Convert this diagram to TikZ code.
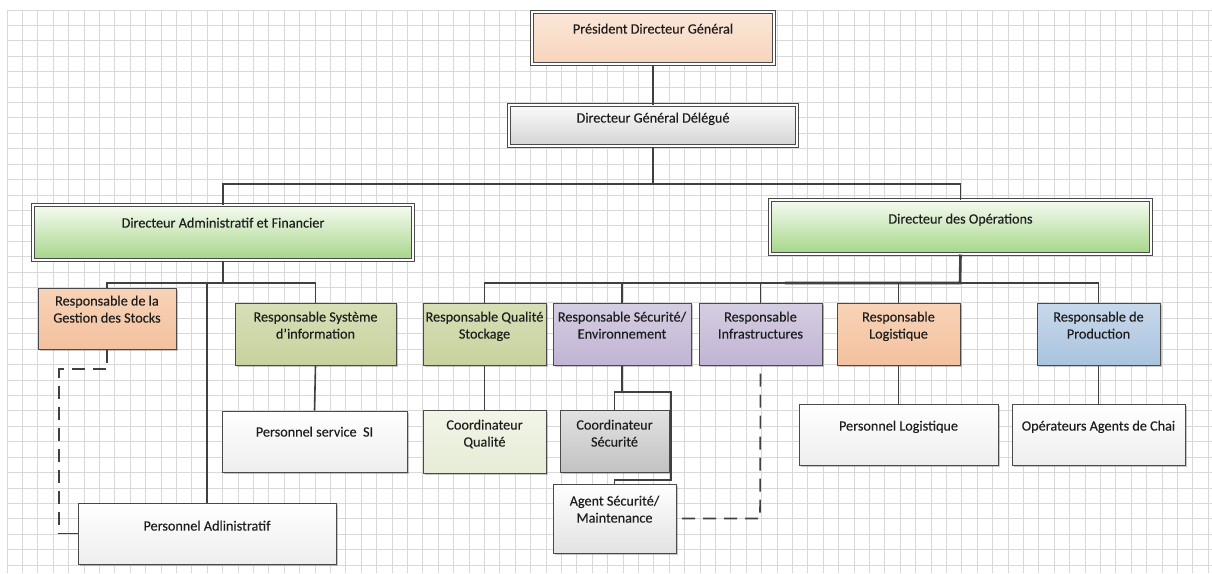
\documentclass[tikz,border=0pt]{standalone}
\usepackage{fontspec}
\setmainfont{Carlito}
\newfontfamily\labfont{Carlito}[FakeBold=0.25]
\usetikzlibrary{shadows}
\definecolor{gridc}{HTML}{D9D9D9}
\definecolor{bordc}{HTML}{4A4A4A}
\definecolor{linec}{HTML}{404040}
\definecolor{textc}{HTML}{1E1E1E}
\definecolor{peachT}{HTML}{FBE7D9}
\definecolor{peachB}{HTML}{F7D4BB}
\definecolor{orT}{HTML}{F8D3B7}
\definecolor{orB}{HTML}{F3C19F}
\definecolor{grnT}{HTML}{F6FBF2}
\definecolor{grnB}{HTML}{A5D588}
\definecolor{olT}{HTML}{D7DFB6}
\definecolor{olB}{HTML}{C8D29E}
\definecolor{lavT}{HTML}{D5CEE2}
\definecolor{lavB}{HTML}{C1B4D4}
\definecolor{bluT}{HTML}{C8D8EB}
\definecolor{bluB}{HTML}{A9C4DF}
\definecolor{wT}{HTML}{FFFFFF}
\definecolor{wB}{HTML}{EEEEEE}
\definecolor{lgT}{HTML}{F2F5E9}
\definecolor{lgB}{HTML}{E6ECD6}
\definecolor{gyT}{HTML}{E2E2E2}
\definecolor{gyB}{HTML}{C2C2C2}
\definecolor{dgT}{HTML}{FAFAFA}
\definecolor{dgB}{HTML}{D4D4D4}
\begin{document}
\begin{tikzpicture}[x=1pt,y=-1pt,
  box/.style={draw=bordc, line width=1pt, rectangle, inner sep=0pt,
    drop shadow={shadow xshift=1.5pt, shadow yshift=-1.5pt, fill=black, opacity=0.22}},
  dbox/.style={box, double=white, double distance=2pt},
  lab/.style={anchor=north, align=center, inner sep=0pt, text=textc,
    font=\labfont\fontsize{14.2}{17}\selectfont},
  conn/.style={draw=linec, line width=1.6pt},
  dconn/.style={draw=linec, line width=1.6pt, dash pattern=on 13pt off 8pt}
]
\useasboundingbox (0,0) rectangle (1212,573);
\fill[white] (0,0) rectangle (1212,573);
% grid
\foreach \i in {0,...,78} \draw[gridc, line width=1pt] ({7+\i*15.4},10) -- ({7+\i*15.4},573);
\foreach \j in {0,...,36} \draw[gridc, line width=1pt] (7,{10+\j*15.42}) -- (1212,{10+\j*15.42});

% boxes
\node[dbox, top color=peachT, bottom color=peachB, minimum width=242pt, minimum height=52pt,
  label={[lab,yshift=-12pt]north:Président Directeur Général}] (pdg) at (653,38) {};
\node[dbox, top color=dgT, bottom color=dgB, minimum width=288pt, minimum height=41pt,
  label={[lab,yshift=-8pt]north:Directeur Général Délégué}] (dgd) at (653,125.5) {};
\node[dbox, top color=grnT, bottom color=grnB, minimum width=380pt, minimum height=55pt,
  label={[lab,yshift=-13pt]north:Directeur Administratif et Financier}] (daf) at (223,232.5) {};
\node[dbox, top color=grnT, bottom color=grnB, minimum width=381pt, minimum height=54pt,
  label={[lab,yshift=-14pt]north:Directeur des Opérations}] (do) at (960.5,227) {};

\node[box, top color=orT, bottom color=orB, minimum width=138pt, minimum height=61pt,
  label={[lab,yshift=-8pt]north:Responsable de la\\Gestion des Stocks}] (rgs) at (107,318.5) {};
\node[box, top color=olT, bottom color=olB, minimum width=161pt, minimum height=62pt,
  label={[lab,yshift=-9pt]north:Responsable Système\\d’information}] (rsi) at (315.5,334) {};
\node[box, top color=olT, bottom color=olB, minimum width=123pt, minimum height=62pt,
  label={[lab,yshift=-9pt]north:Responsable Qualité\\Stockage}] (rqs) at (484.5,334) {};
\node[box, top color=lavT, bottom color=lavB, minimum width=138pt, minimum height=62pt,
  label={[lab,yshift=-9pt]north:Responsable Sécurité/\\Environnement}] (rse) at (622,334) {};
\node[box, top color=lavT, bottom color=lavB, minimum width=123pt, minimum height=62pt,
  label={[lab,yshift=-9pt]north:Responsable\\Infrastructures}] (ri) at (760.5,334) {};
\node[box, top color=orT, bottom color=orB, minimum width=123pt, minimum height=62pt,
  label={[lab,yshift=-9pt]north:Responsable\\Logistique}] (rl) at (898.5,334) {};
\node[box, top color=bluT, bottom color=bluB, minimum width=123pt, minimum height=62pt,
  label={[lab,yshift=-9pt]north:Responsable de\\Production}] (rp) at (1098.5,334) {};

\node[box, top color=wT, bottom color=wB, minimum width=185pt, minimum height=61pt,
  label={[lab,yshift=-16pt]north:Personnel service~ SI}] (pssi) at (314.5,441.5) {};
\node[box, top color=wT, bottom color=wB, minimum width=258pt, minimum height=61pt,
  label={[lab,yshift=-18pt]north:Personnel Adlinistratif}] (pa) at (207,533.5) {};
\node[box, top color=lgT, bottom color=lgB, minimum width=123pt, minimum height=63pt,
  label={[lab,yshift=-10pt]north:Coordinateur\\Qualité}] (cq) at (484.5,441.5) {};
\node[box, top color=gyT, bottom color=gyB, minimum width=109pt, minimum height=62pt,
  label={[lab,yshift=-10pt]north:Coordinateur\\Sécurité}] (cs) at (614.5,441) {};
\node[box, top color=wT, bottom color=wB!95!black, minimum width=123pt, minimum height=69pt,
  label={[lab,yshift=-12pt]north:Agent Sécurité/\\Maintenance}] (asm) at (614.5,518.5) {};
\node[box, top color=wT, bottom color=wB, minimum width=199pt, minimum height=61pt,
  label={[lab,yshift=-17pt]north:Personnel Logistique}] (pl) at (898.5,434.5) {};
\node[box, top color=wT, bottom color=wB, minimum width=173pt, minimum height=61pt,
  label={[lab,yshift=-17pt]north:Opérateurs Agents de Chai}] (oac) at (1098.5,434.5) {};

% junction coordinates
\coordinate (b1) at (653,184);
\coordinate (b2) at (223,283);
\coordinate (b3) at (960,283);
\coordinate (b3a) at (785,283);
\coordinate (b4) at (622,392);
\coordinate (b5) at (671,480);
\coordinate (d1) at (59,369);
\coordinate (d3) at (59,533.5);
\coordinate (d2) at (760,518.5);

% connectors
\draw[conn] (pdg.south) -- (dgd.north);
\draw[conn] (dgd.south) -- (b1) -| (daf.north);
\draw[conn] (b1) -| (do.north);
\draw[conn] (daf.south) -- (b2) -| (rgs.north);
\draw[conn] (b2) -| (rsi.north);
\draw[conn] (pa.north) -- (pa.north |- b2);
\draw[conn] (rsi.south) -- (pssi.north);
\draw[dconn] (rgs.south) |- (d1) -- (d3);
\draw[conn] (d3) -- (pa.west);
\draw[conn] (b3) -| (rqs.north);
\draw[conn] (b3) -| (rse.north);
\draw[conn] (b3) -| (ri.north);
\draw[conn] (b3) -| (rl.north);
\draw[conn] (b3) -| (rp.north);
\draw[draw=linec, line width=2.6pt] (do.south) -- (b3) -- (b3a);
\draw[conn] (rqs.south) -- (cq.north);
\draw[conn] (rse.south) -- (b4) -| (cs.north);
\draw[conn] (b4) -| (b5) -| (asm.north);
\draw[dconn, dash phase=13pt] (ri.south) -- (d2) -- (asm.east);
\draw[conn] (rl.south) -- (pl.north);
\draw[conn] (rp.south) -- (oac.north);
\end{tikzpicture}
\end{document}
